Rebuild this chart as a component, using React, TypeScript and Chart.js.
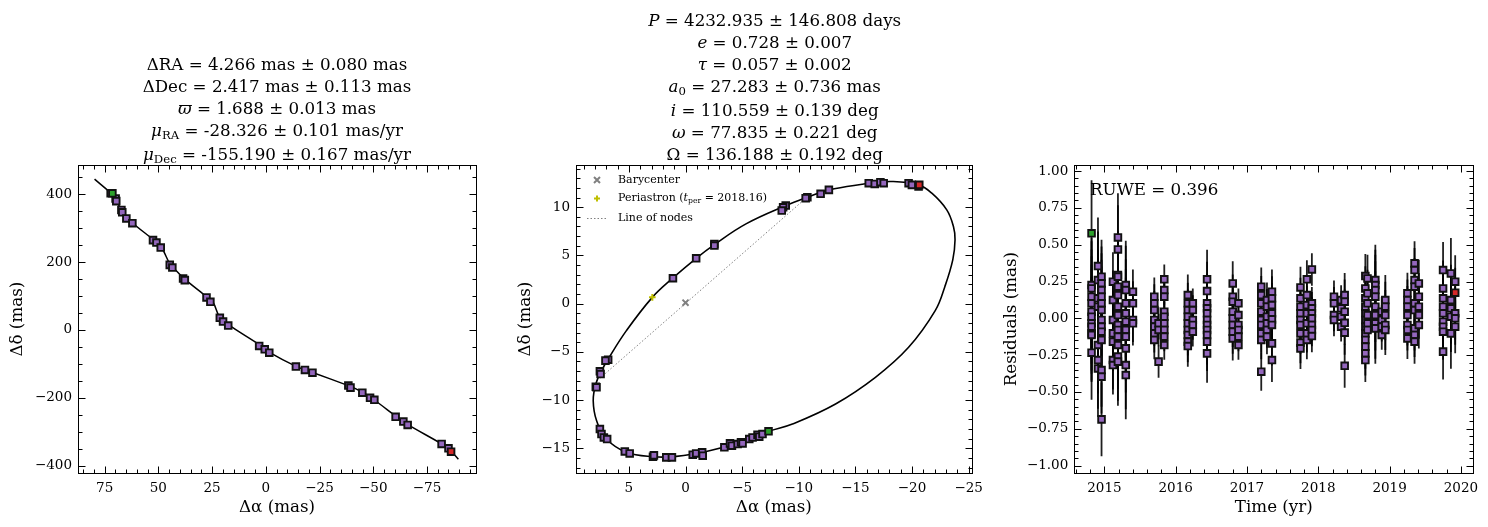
import React, { useEffect, useRef } from "react";
import { Chart, registerables } from "chart.js";

Chart.register(...registerables);

const SERIF = "'DejaVu Serif', serif";
const PURPLE = "#9467bd";
const GREEN = "#2ca02c";
const RED = "#d62728";

// ---------------- Panel 1: sky track ----------------
const trackRA = [79.7, 71.1, 69.6, 67.2, 61.8, 52.5, 48.6, 44.7, 43.2, 37.7, 27.6, 24.5, 21.4, 16.8, 2.8, -1.9, -14.3, -22.1, -38.4, -40.7, -45.3, -50.8, -60.9, -66.3, -81.8, -85.7, -89.6];
const trackDec = [445, 398, 383, 354, 315, 267, 244, 195, 185, 150, 98, 81, 37, 13, -44, -67, -108, -126, -164, -170, -185, -208, -256, -280, -336, -354, -381];
const skyRA = [72.2, 69.9, 69.6, 67.2, 66.8, 64.9, 62.1, 52.5, 50.9, 48.9, 44.7, 43.5, 38.5, 37.7, 27.6, 25.8, 21.4, 19.9, 17.5, 3.1, 0.5, -1.6, -14.0, -18.2, -21.7, -38.4, -39.4, -44.9, -48.5, -50.5, -60.4, -64.0, -66.0, -81.8, -85.0];
const skyDec = [403, 388, 380, 354, 347, 329, 315, 265, 258, 243, 192, 184, 152, 147, 96, 83, 36, 25, 13, -47, -57, -67, -108, -118, -126, -164, -170, -185, -200, -206, -256, -270, -280, -336, -349];
const skyFirstRA = [71.4];
const skyFirstDec = [403];
const skyLastRA = [-86.2];
const skyLastDec = [-359];

// ---------------- Panel 2: orbit ----------------
const orbitRA = [-16.18, -18.23, -20.58, -21.75, -23.07, -23.66, -23.8, -23.6, -22.9, -22.05, -19.7, -16.77, -13.25, -9.44, -7.33, -4.75, -2.11, 0.82, 2.87, 5.22, 6.97, 7.85, 8.15, 7.92, 7.41, 6.83, 5.22, 2.93, 1.11, -0.94, -2.55, -5.34, -8.86, -10.76, -12.66, -16.18];
const orbitDec = [12.48, 12.66, 12.31, 11.45, 9.72, 7.99, 6.61, 4.53, 1.76, -0.73, -4.53, -7.64, -10.4, -12.48, -13.24, -14.39, -15.25, -15.84, -15.87, -15.42, -14.04, -12.14, -10.06, -8.33, -6.95, -5.74, -2.8, 0.65, 2.66, 4.7, 6.12, 8.27, 10.17, 11.03, 11.79, 12.48];
const orbObsRA = [-16.18, -16.71, -17.21, -17.5, -19.7, -19.99, -20.58, -12.66, -11.93, -10.76, -10.61, -8.85, -8.62, -8.5, -2.55, -2.55, -0.94, 1.11, 6.83, 7.07, 7.56, 7.5, 7.92, 7.86, 7.56, 7.42, 7.21, 6.92, 5.36, 4.93, 2.87, 2.79, 1.7, 1.2, -0.64, -0.94, -1.47, -1.52, -3.43, -3.93, -4.1, -4.6, -4.9, -5.04, -5.63, -5.92, -6.36, -6.51, -6.8];
const orbObsDec = [12.48, 12.41, 12.59, 12.48, 12.48, 12.31, 12.14, 11.79, 11.38, 11.03, 10.93, 10.17, 9.99, 9.65, 6.19, 6.02, 4.7, 2.63, -5.81, -5.91, -7.02, -7.3, -8.61, -8.68, -13.0, -13.52, -13.87, -14.04, -15.32, -15.53, -15.87, -15.73, -15.94, -15.94, -15.66, -15.53, -15.42, -15.77, -14.9, -14.49, -14.73, -14.56, -14.38, -14.49, -14.04, -13.87, -13.59, -13.8, -13.52];
const orbFirstRA = [-7.33];
const orbFirstDec = [-13.24];
const orbLastRA = [-20.64];
const orbLastDec = [12.31];
const nodesRA = [7.56, -10.6];
const nodesDec = [-7.74, 10.9];
const baryRA = [0];
const baryDec = [0.1];
const periRA = [2.93];
const periDec = [0.65];

// ---------------- Panel 3: residuals ----------------
const resEpochs = [2014.82, 2014.91, 2014.96, 2015.12, 2015.19, 2015.3, 2015.4, 2015.7, 2015.76, 2015.84, 2016.17, 2016.24, 2016.44, 2016.8, 2016.88, 2017.2, 2017.28, 2017.35, 2017.75, 2017.84, 2017.91, 2018.22, 2018.32, 2018.37, 2018.66, 2018.69, 2018.8, 2018.89, 2018.94, 2019.25, 2019.35, 2019.41, 2019.75, 2019.86, 2019.92];
const resErrors = [0.32, 0.33, 0.25, 0.2, 0.3, 0.3, 0.15, 0.13, 0.11, 0.1, 0.14, 0.1, 0.2, 0.15, 0.1, 0.13, 0.12, 0.15, 0.14, 0.13, 0.11, 0.11, 0.1, 0.15, 0.15, 0.16, 0.24, 0.1, 0.17, 0.14, 0.15, 0.16, 0.19, 0.24, 0.18];
const resValues = [
  [0.226, 0.203, 0.147, 0.102, 0.045, 0.011, -0.034, -0.057, -0.102, -0.113, -0.233],
  [0.355, 0.26, 0.136, 0.079, -0.181, -0.283, -0.34],
  [0.283, 0.237, 0.192, 0.147, 0.102, 0.056, -0.011, -0.057, -0.091, -0.147, -0.351, -0.396, -0.686],
  [0.249, 0.124, -0.011, -0.102, -0.158, -0.283, -0.317],
  [0.549, 0.468, 0.294, 0.283, 0.215, 0.158, 0.079, 0.022, -0.045, -0.079, -0.124, -0.181, -0.26, -0.294],
  [0.226, 0.192, 0.102, 0.034, -0.023, -0.079, -0.124, -0.204, -0.317, -0.385],
  [0.181, 0.102, -0.011, -0.034],
  [0.147, 0.102, 0.056, -0.011, -0.057, -0.102, -0.147],
  [-0.034, -0.079, -0.294],
  [0.265, 0.192, 0.147, 0.045, 0.011, -0.034, -0.079, -0.124, -0.181],
  [0.158, 0.102, 0.056, 0.011, -0.034, -0.079, -0.113, -0.158, -0.188],
  [0.102, 0.056, -0.011, -0.045, -0.091],
  [0.265, 0.185, 0.102, 0.068, 0.034, -0.011, -0.045, -0.079, -0.113, -0.158, -0.238],
  [0.237, 0.147, 0.113, 0.045, 0.0, -0.045, -0.091, -0.136],
  [0.102, 0.022, -0.045, -0.079, -0.124, -0.181],
  [0.215, 0.158, 0.102, 0.045, -0.011, -0.045, -0.102, -0.147, -0.362],
  [0.124, 0.079, 0.011, -0.034, -0.079, -0.124],
  [0.181, 0.136, 0.09, 0.034, -0.007, -0.045, -0.17, -0.283],
  [0.21, 0.136, 0.079, 0.034, -0.011, -0.045, -0.102, -0.165, -0.204],
  [0.265, 0.158, 0.09, 0.034, -0.034, -0.102, -0.147],
  [0.332, 0.102, 0.068, 0.034, 0.0, -0.045, -0.079, -0.12],
  [0.147, 0.102, 0.022, -0.011],
  [0.124, 0.068, 0.011, -0.057],
  [0.158, 0.113, 0.045, -0.03, -0.097, -0.322],
  [0.287, 0.203, 0.136, 0.079, 0.034, -0.011, -0.057, -0.102, -0.147, -0.192, -0.238, -0.283],
  [0.271, 0.17, 0.102, 0.022, -0.034, -0.079],
  [0.26, 0.226, 0.192, 0.147, 0.079, 0.022, -0.034, -0.068],
  [0.045, -0.011, -0.057, -0.113],
  [0.124, 0.079, 0.022, -0.045, -0.079],
  [0.17, 0.124, 0.079, 0.022, -0.045, -0.079, -0.136],
  [0.373, 0.328, 0.26, 0.215, 0.102, 0.056, -0.068, -0.113, -0.158],
  [0.237, 0.147, 0.079, 0.022, -0.045],
  [0.328, 0.203, 0.136, 0.079, 0.034, -0.023, -0.057, -0.091, -0.226],
  [0.305, 0.124, 0.068, 0.011, -0.102],
  [0.249, 0.034, 0.0, -0.057],
];
const resFirstT = [2014.82];
const resFirstV = [0.577];
const resFirstE = [0.36];
const resLastT = [2019.92];
const resLastV = [0.174];
const resLastE = [0.17];

// ---------------- Ticks ----------------
const p1XTicks = [75, 50, 25, 0, -25, -50, -75];
const p1XLabels = ["75", "50", "25", "0", "\u221225", "\u221250", "\u221275"];
const p1YTicks = [400, 200, 0, -200, -400];
const p1YLabels = ["400", "200", "0", "\u2212200", "\u2212400"];
const p2XTicks = [5, 0, -5, -10, -15, -20, -25];
const p2XLabels = ["5", "0", "\u22125", "\u221210", "\u221215", "\u221220", "\u221225"];
const p2YTicks = [10, 5, 0, -5, -10, -15];
const p2YLabels = ["10", "5", "0", "\u22125", "\u221210", "\u221215"];
const p3XTicks = [2015, 2016, 2017, 2018, 2019, 2020];
const p3XLabels = ["2015", "2016", "2017", "2018", "2019", "2020"];
const p3YTicks = [1, 0.75, 0.5, 0.25, 0, -0.25, -0.5, -0.75, -1];
const p3YLabels = ["1.00", "0.75", "0.50", "0.25", "0.00", "\u22120.25", "\u22120.50", "\u22120.75", "\u22121.00"];

const H = 527;

const pts = (xs: number[], ys: number[]) => xs.map((x, i) => ({ x, y: ys[i] }));

function makeScale(o: {
  min: number; max: number; ticks: number[]; labels: string[]; title: string;
  isX: boolean; titlePad: number; size: number; reverse?: boolean;
}) {
  return {
    type: "linear",
    position: o.isX ? "bottom" : "left",
    min: o.min,
    max: o.max,
    reverse: !!o.reverse,
    bounds: "data",
    afterBuildTicks: (s: any) => {
      s.ticks = o.ticks.map((v) => ({ value: v }));
    },
    afterFit: (s: any) => {
      if (o.isX) s.height = o.size;
      else s.width = o.size;
    },
    ticks: {
      autoSkip: false,
      maxRotation: 0,
      minRotation: 0,
      padding: o.isX ? 7 : 6,
      color: "#000",
      font: { family: SERIF, size: 13.5 },
      callback: (v: number) => {
        const i = o.ticks.indexOf(v);
        return i >= 0 ? o.labels[i] : "";
      },
    },
    grid: { display: false, drawTicks: false },
    border: { display: false },
    title: {
      display: true,
      text: o.title,
      color: "#000",
      font: { family: SERIF, size: 16.7 },
      padding: o.isX ? { top: 0, bottom: o.titlePad } : { top: o.titlePad, bottom: 0 },
    },
  };
}

function decoPlugin(xMajor: number[], xMinor: number, yMajor: number[], yMinor: number) {
  return {
    id: "deco",
    afterDatasetsDraw(chart: any) {
      const { ctx, chartArea: a } = chart;
      const xs = chart.scales.x;
      const ys = chart.scales.y;
      ctx.save();
      ctx.strokeStyle = "#000";
      ctx.lineWidth = 1;
      const seg = (x1: number, y1: number, x2: number, y2: number) => {
        ctx.beginPath();
        ctx.moveTo(x1, y1);
        ctx.lineTo(x2, y2);
        ctx.stroke();
      };
      const snap = (v: number) => Math.round(v) + 0.5;
      const minors = (min: number, max: number, step: number) => {
        const out: number[] = [];
        const k0 = Math.ceil(min / step - 1e-9);
        const k1 = Math.floor(max / step + 1e-9);
        for (let k = k0; k <= k1; k++) out.push(k * step);
        return out;
      };
      const left = snap(a.left), right = snap(a.right), top = snap(a.top), bottom = snap(a.bottom);
      for (const v of minors(xs.min, xs.max, xMinor)) {
        const p = snap(xs.getPixelForValue(v));
        seg(p, bottom, p, bottom - 4);
        seg(p, top, p, top + 4);
      }
      for (const v of xMajor) {
        const p = snap(xs.getPixelForValue(v));
        seg(p, bottom, p, bottom - 7);
        seg(p, top, p, top + 7);
      }
      for (const v of minors(ys.min, ys.max, yMinor)) {
        const p = snap(ys.getPixelForValue(v));
        seg(left, p, left + 4, p);
        seg(right, p, right - 4, p);
      }
      for (const v of yMajor) {
        const p = snap(ys.getPixelForValue(v));
        seg(left, p, left + 7, p);
        seg(right, p, right - 7, p);
      }
      ctx.strokeRect(left, top, right - left, bottom - top);
      ctx.restore();
    },
  };
}

function errorBarPlugin(series: { x: number; y: number; e: number }[]) {
  return {
    id: "errbars",
    beforeDatasetsDraw(chart: any) {
      const { ctx, chartArea: a } = chart;
      const xs = chart.scales.x;
      const ys = chart.scales.y;
      ctx.save();
      ctx.beginPath();
      ctx.rect(a.left, a.top, a.right - a.left, a.bottom - a.top);
      ctx.clip();
      ctx.strokeStyle = "rgba(0,0,0,0.88)";
      ctx.lineWidth = 1.8;
      for (const p of series) {
        const px = xs.getPixelForValue(p.x);
        ctx.beginPath();
        ctx.moveTo(px, ys.getPixelForValue(p.y - p.e));
        ctx.lineTo(px, ys.getPixelForValue(p.y + p.e));
        ctx.stroke();
      }
      ctx.restore();
    },
  };
}

const squares = (data: any[], color: string, order: number) => ({
  data,
  showLine: false,
  pointStyle: "rect",
  pointRadius: 4.7,
  pointBackgroundColor: color,
  pointBorderColor: "#111",
  pointBorderWidth: 1.9,
  order,
});

const baseOptions = (padRight: number) => ({
  responsive: false,
  animation: false,
  devicePixelRatio: 1,
  events: [],
  layout: { padding: { top: 165, right: padRight, bottom: 0, left: 0 } },
  plugins: { legend: { display: false }, tooltip: { enabled: false }, title: { display: false } },
});

function config1() {
  return {
    type: "scatter",
    data: {
      datasets: [
        squares(pts(skyFirstRA, skyFirstDec), GREEN, 0),
        squares(pts(skyLastRA, skyLastDec), RED, 0),
        squares(pts(skyRA, skyDec), PURPLE, 1),
        {
          data: pts(trackRA, trackDec),
          showLine: true,
          pointRadius: 0,
          borderColor: "#000",
          borderWidth: 1.5,
          tension: 0.3,
          order: 5,
        },
      ],
    },
    options: {
      ...baseOptions(14),
      scales: {
        x: makeScale({ min: -97.8, max: 87.4, reverse: true, ticks: p1XTicks, labels: p1XLabels, title: "\u0394\u03b1 (mas)", isX: true, titlePad: 9, size: H - 473.3 }),
        y: makeScale({ min: -422.7, max: 486.6, ticks: p1YTicks, labels: p1YLabels, title: "\u0394\u03b4 (mas)", isX: false, titlePad: 8, size: 78 }),
      },
    },
    plugins: [decoPlugin(p1XTicks, 5, p1YTicks, 50)],
  };
}

function config2() {
  return {
    type: "scatter",
    data: {
      datasets: [
        squares(pts(orbFirstRA, orbFirstDec), GREEN, 0),
        squares(pts(orbLastRA, orbLastDec), RED, 0),
        squares(pts(orbObsRA, orbObsDec), PURPLE, 1),
        {
          data: pts(baryRA, baryDec),
          showLine: false,
          pointStyle: "crossRot",
          pointRadius: 4.3,
          pointBorderColor: "#808080",
          pointBorderWidth: 2,
          order: 2,
        },
        {
          data: pts(periRA, periDec),
          showLine: false,
          pointStyle: "cross",
          pointRadius: 3.3,
          pointBorderColor: "#bfbf00",
          pointBorderWidth: 2,
          order: 2,
        },
        {
          data: pts(orbitRA, orbitDec),
          showLine: true,
          pointRadius: 0,
          borderColor: "#000",
          borderWidth: 1.6,
          tension: 0.4,
          order: 3,
        },
        {
          data: pts(nodesRA, nodesDec),
          showLine: true,
          pointRadius: 0,
          borderColor: "#808080",
          borderWidth: 1,
          borderDash: [1.5, 2],
          order: 4,
        },
      ],
    },
    options: {
      ...baseOptions(16.7),
      scales: {
        x: makeScale({ min: -25.27, max: 9.67, reverse: true, ticks: p2XTicks, labels: p2XLabels, title: "\u0394\u03b1 (mas)", isX: true, titlePad: 9, size: H - 473.3 }),
        y: makeScale({ min: -17.59, max: 14.37, ticks: p2YTicks, labels: p2YLabels, title: "\u0394\u03b4 (mas)", isX: false, titlePad: 26, size: 86 }),
      },
    },
    plugins: [decoPlugin(p2XTicks, 1, p2YTicks, 1)],
  };
}

function config3() {
  const main = resEpochs.flatMap((t, i) => resValues[i].map((v) => ({ x: t, y: v, e: resErrors[i] })));
  const first = resFirstT.map((t, i) => ({ x: t, y: resFirstV[i], e: resFirstE[i] }));
  const last = resLastT.map((t, i) => ({ x: t, y: resLastV[i], e: resLastE[i] }));
  return {
    type: "scatter",
    data: {
      datasets: [
        squares(first, GREEN, 0),
        squares(last, RED, 0),
        squares(main, PURPLE, 1),
      ],
    },
    options: {
      ...baseOptions(14.7),
      scales: {
        x: makeScale({ min: 2014.578, max: 2020.174, ticks: p3XTicks, labels: p3XLabels, title: "Time (yr)", isX: true, titlePad: 9, size: H - 473.3 }),
        y: makeScale({ min: -1.052, max: 1.041, ticks: p3YTicks, labels: p3YLabels, title: "Residuals (mas)", isX: false, titlePad: 12, size: 84.3 }),
      },
    },
    plugins: [errorBarPlugin([...main, ...first, ...last]), decoPlugin(p3XTicks, 0.2, p3YTicks, 0.05)],
  };
}

function Panel({ left, width, make }: { left: number; width: number; make: () => any }) {
  const ref = useRef<HTMLCanvasElement>(null);
  useEffect(() => {
    const chart = new Chart(ref.current as HTMLCanvasElement, make());
    return () => chart.destroy();
  }, []);
  return (
    <canvas
      ref={ref}
      width={width}
      height={H}
      style={{ position: "absolute", left, top: 0, width, height: H }}
    />
  );
}

const subStyle: React.CSSProperties = { fontSize: "0.7em", verticalAlign: "baseline", position: "relative", top: "0.28em" };

function TitleBlock({ center, top, lines }: { center: number; top: number; lines: React.ReactNode[] }) {
  return (
    <div
      style={{
        position: "absolute",
        left: center - 250,
        top,
        width: 500,
        textAlign: "center",
        fontFamily: SERIF,
        fontSize: 16.7,
        lineHeight: "22px",
        color: "#000",
        whiteSpace: "nowrap",
      }}
    >
      {lines.map((l, i) => (
        <div key={i}>{l}</div>
      ))}
    </div>
  );
}

export default function App() {
  const title1 = [
    <>ΔRA = 4.266 mas ± 0.080 mas</>,
    <>ΔDec = 2.417 mas ± 0.113 mas</>,
    <><i>ϖ</i> = 1.688 ± 0.013 mas</>,
    <><i>μ</i><span style={subStyle}>RA</span> = -28.326 ± 0.101 mas/yr</>,
    <><i>μ</i><span style={subStyle}>Dec</span> = -155.190 ± 0.167 mas/yr</>,
  ];
  const title2 = [
    <><i>P</i> = 4232.935 ± 146.808 days</>,
    <><i>e</i> = 0.728 ± 0.007</>,
    <><i>τ</i> = 0.057 ± 0.002</>,
    <><i>a</i><span style={subStyle}>0</span> = 27.283 ± 0.736 mas</>,
    <><i>i</i> = 110.559 ± 0.139 deg</>,
    <><i>ω</i> = 77.835 ± 0.221 deg</>,
    <>Ω = 136.188 ± 0.192 deg</>,
  ];
  const legendText: React.CSSProperties = {
    position: "absolute",
    left: 618,
    fontFamily: SERIF,
    fontSize: 11,
    lineHeight: "14px",
    color: "#000",
    whiteSpace: "nowrap",
  };
  return (
    <div style={{ position: "absolute", left: 0, top: 0, width: 1488, height: H, background: "#fff", overflow: "hidden" }}>
      <Panel left={0} width={490} make={config1} />
      <Panel left={490} width={500} make={config2} />
      <Panel left={990} width={498} make={config3} />
      <TitleBlock center={277} top={53} lines={title1} />
      <TitleBlock center={774.7} top={9} lines={title2} />
      <div
        style={{
          position: "absolute",
          left: 1090,
          top: 178,
          fontFamily: SERIF,
          fontSize: 16.7,
          lineHeight: "22px",
          color: "#000",
          whiteSpace: "nowrap",
        }}
      >
        RUWE = 0.396
      </div>
      <svg style={{ position: "absolute", left: 580, top: 170 }} width={36} height={60}>
        <path d="M14 7 L20 13 M20 7 L14 13" stroke="#808080" strokeWidth={2} />
        <path d="M17 25.5 L17 31.5 M14 28.5 L20 28.5" stroke="#bfbf00" strokeWidth={2} />
        <path d="M7 48.5 L27 48.5" stroke="#808080" strokeWidth={1} strokeDasharray="1.5 2" />
      </svg>
      <div style={{ ...legendText, top: 173 }}>Barycenter</div>
      <div style={{ ...legendText, top: 191 }}>
        Periastron (<i>t</i><span style={subStyle}>per</span> = 2018.16)
      </div>
      <div style={{ ...legendText, top: 211 }}>Line of nodes</div>
    </div>
  );
}
